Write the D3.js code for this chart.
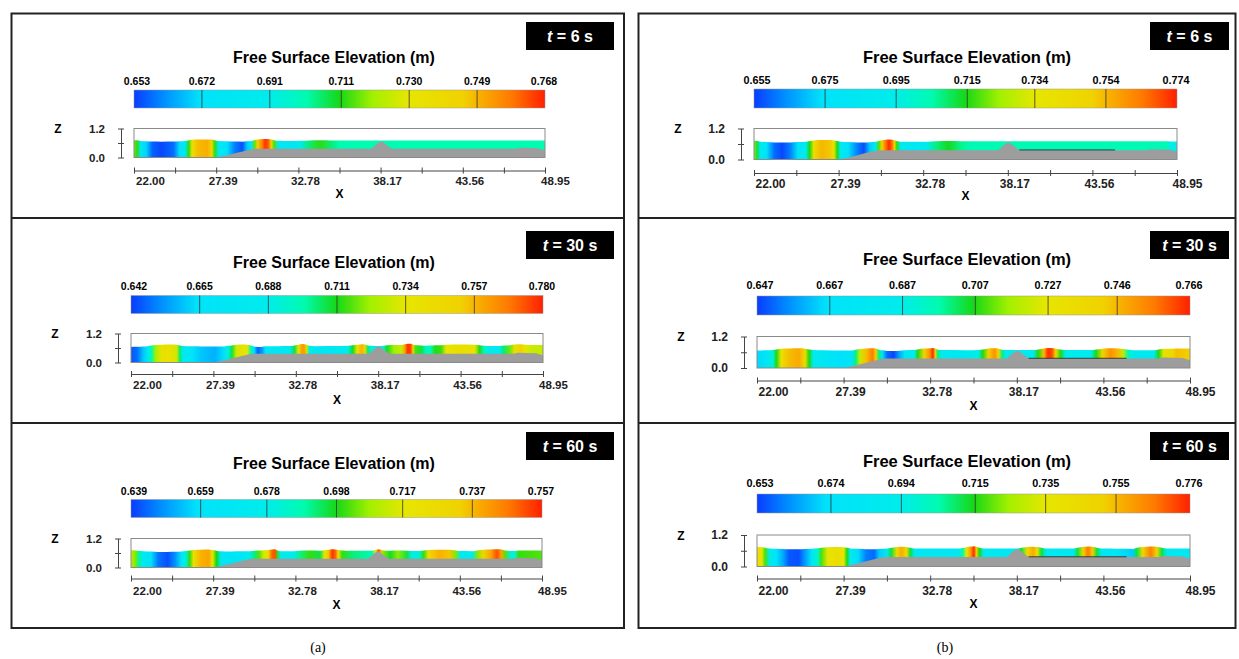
<!DOCTYPE html>
<html>
<head>
<meta charset="utf-8">
<script src="https://cdnjs.cloudflare.com/ajax/libs/d3/7.8.5/d3.min.js"></script>
<style>
  body { margin: 0; background: #fff; }
  svg { display: block; font-family: "Liberation Sans", Arial, Helvetica, sans-serif; }
  .axis path, .axis line { stroke: #444; }
</style>
</head>
<body>
<svg id="fig" width="1239" height="659"></svg>
<script>
// snapshot times (s)
var times = [6, 30, 60];

// colour bar labels, column (a) and (b)
var barA6  = [0.653, 0.672, 0.691, 0.711, 0.730, 0.749, 0.768];
var barA30 = [0.642, 0.665, 0.688, 0.711, 0.734, 0.757, 0.780];
var barA60 = [0.639, 0.659, 0.678, 0.698, 0.717, 0.737, 0.757];
var barB6  = [0.655, 0.675, 0.695, 0.715, 0.734, 0.754, 0.774];
var barB30 = [0.647, 0.667, 0.687, 0.707, 0.727, 0.746, 0.766];
var barB60 = [0.653, 0.674, 0.694, 0.715, 0.735, 0.755, 0.776];

// free surface elevation along the flume, [x (m), eta (m)]
var etaA6 = [[22.0,0.716],[22.2,0.712],[22.45,0.684],[22.8,0.670],[23.2,0.657],[23.8,0.654],[24.6,0.658],[25.0,0.672],
  [25.35,0.682],[25.6,0.712],[25.8,0.733],[26.2,0.748],[26.8,0.750],[27.1,0.742],[27.3,0.712],[27.55,0.685],[28.1,0.672],
  [28.6,0.660],[29.1,0.655],[29.4,0.668],[29.7,0.686],[29.9,0.715],[30.1,0.745],[30.4,0.757],[30.6,0.766],[30.8,0.762],
  [31.0,0.745],[31.2,0.714],[31.45,0.688],[32.2,0.680],[32.9,0.688],[33.5,0.705],[34.2,0.712],[34.9,0.705],[35.5,0.701],
  [48.95,0.701]];
var etaB6 = [[22.0,0.722],[22.2,0.712],[22.4,0.688],[22.8,0.676],[23.3,0.660],[23.8,0.656],[24.3,0.662],[24.8,0.678],
  [25.3,0.688],[25.55,0.715],[25.8,0.740],[26.3,0.754],[26.8,0.752],[27.1,0.738],[27.3,0.715],[27.5,0.690],[28.0,0.676],
  [28.6,0.662],[29.0,0.657],[29.4,0.672],[29.75,0.690],[29.95,0.718],[30.15,0.748],[30.4,0.765],[30.6,0.773],[30.8,0.765],
  [30.95,0.748],[31.1,0.716],[31.35,0.690],[32.2,0.684],[33.0,0.690],[33.6,0.708],[34.4,0.714],[35.2,0.707],[35.8,0.704],
  [48.3,0.704],[48.5,0.695],[48.95,0.695]];
var etaA30 = [[22.0,0.645],[22.4,0.648],[22.8,0.660],[23.1,0.676],[23.35,0.700],[23.6,0.722],[24.0,0.738],[24.6,0.740],
  [25.0,0.730],[25.2,0.705],[25.4,0.680],[26.0,0.668],[26.6,0.660],[27.5,0.657],[28.1,0.665],[28.35,0.690],[28.6,0.708],
  [28.9,0.730],[29.3,0.740],[29.6,0.735],[29.85,0.700],[30.05,0.665],[30.3,0.646],[30.6,0.655],[30.8,0.670],[31.6,0.676],
  [32.4,0.682],[32.7,0.708],[32.95,0.738],[33.2,0.762],[33.35,0.760],[33.5,0.730],[33.65,0.690],[34.0,0.676],[35.5,0.678],
  [36.2,0.688],[36.5,0.710],[36.8,0.738],[37.1,0.758],[37.3,0.745],[37.5,0.705],[37.7,0.690],[38.2,0.682],[38.5,0.690],
  [38.75,0.710],[39.2,0.722],[39.7,0.728],[39.9,0.760],[40.1,0.778],[40.3,0.775],[40.45,0.750],[40.6,0.715],[41.0,0.708],
  [41.3,0.695],[41.6,0.700],[41.9,0.712],[42.3,0.714],[42.6,0.736],[43.5,0.742],[44.5,0.738],[44.8,0.712],[45.1,0.695],
  [45.5,0.682],[46.1,0.684],[46.4,0.705],[46.8,0.718],[47.1,0.740],[47.5,0.752],[47.8,0.735],[48.2,0.728],[48.95,0.728]];
var etaB30 = [[22.0,0.665],[22.6,0.672],[23.0,0.690],[23.2,0.707],[23.5,0.730],[24.0,0.745],[24.6,0.748],[25.0,0.735],
  [25.25,0.707],[25.5,0.685],[26.2,0.676],[27.2,0.666],[27.9,0.670],[28.15,0.700],[28.4,0.722],[28.8,0.745],[29.2,0.756],
  [29.4,0.742],[29.6,0.700],[29.8,0.672],[30.1,0.652],[30.5,0.648],[30.9,0.660],[31.2,0.676],[31.8,0.684],[32.0,0.707],
  [32.4,0.740],[32.75,0.752],[32.95,0.765],[33.1,0.740],[33.25,0.700],[33.5,0.682],[35.0,0.678],[35.8,0.688],[36.05,0.707],
  [36.4,0.742],[36.8,0.752],[37.05,0.735],[37.25,0.700],[37.5,0.682],[39.2,0.682],[39.5,0.707],[39.85,0.745],[40.1,0.764],
  [40.35,0.762],[40.6,0.735],[40.9,0.707],[41.2,0.686],[42.8,0.684],[43.1,0.707],[43.5,0.738],[44.0,0.752],[44.5,0.745],
  [44.8,0.720],[45.1,0.695],[45.4,0.680],[46.7,0.680],[47.0,0.707],[47.3,0.730],[47.9,0.738],[48.1,0.745],[48.95,0.742]];
var etaA60 = [[22.0,0.712],[22.3,0.705],[22.5,0.690],[22.8,0.672],[23.3,0.660],[23.8,0.645],[24.4,0.641],[24.9,0.648],
  [25.3,0.662],[25.6,0.680],[25.85,0.700],[26.1,0.722],[26.6,0.738],[27.1,0.740],[27.35,0.720],[27.6,0.698],[27.9,0.670],
  [28.6,0.662],[29.3,0.668],[29.8,0.676],[30.1,0.692],[30.4,0.702],[30.7,0.715],[31.0,0.725],[31.25,0.750],[31.45,0.752],
  [31.6,0.700],[31.8,0.676],[32.7,0.676],[33.0,0.690],[33.7,0.700],[34.4,0.695],[34.7,0.718],[34.95,0.735],[35.2,0.755],
  [35.4,0.750],[35.6,0.720],[35.85,0.700],[36.5,0.692],[37.2,0.690],[37.8,0.688],[38.05,0.720],[38.25,0.752],[38.4,0.735],
  [38.55,0.705],[39.0,0.697],[39.5,0.706],[40.1,0.695],[40.4,0.680],[40.9,0.682],[41.2,0.700],[41.5,0.725],[42.2,0.738],
  [42.9,0.735],[43.3,0.705],[43.6,0.678],[44.4,0.676],[44.7,0.705],[45.1,0.730],[45.6,0.740],[46.0,0.752],[46.3,0.740],
  [46.55,0.702],[46.9,0.680],[47.2,0.685],[47.4,0.700],[48.95,0.702]];
var etaB60 = [[22.0,0.742],[22.3,0.738],[22.5,0.718],[22.8,0.690],[23.2,0.676],[23.6,0.666],[24.0,0.656],[24.6,0.655],
  [25.0,0.664],[25.4,0.678],[25.8,0.700],[26.0,0.718],[26.4,0.736],[27.0,0.742],[27.4,0.736],[27.6,0.715],[27.8,0.690],
  [28.3,0.672],[28.8,0.660],[29.3,0.658],[29.6,0.670],[30.1,0.684],[30.35,0.712],[30.7,0.745],[31.0,0.757],[31.3,0.745],
  [31.55,0.712],[31.8,0.686],[34.5,0.682],[34.8,0.705],[35.05,0.735],[35.3,0.760],[35.5,0.775],[35.65,0.752],[35.85,0.715],
  [36.1,0.688],[38.2,0.682],[38.45,0.712],[38.8,0.745],[39.2,0.757],[39.45,0.740],[39.7,0.712],[40.0,0.688],[41.7,0.684],
  [41.95,0.712],[42.3,0.750],[42.6,0.766],[42.9,0.752],[43.15,0.712],[43.45,0.685],[44.4,0.680],[44.8,0.672],[45.4,0.670],
  [45.65,0.712],[46.0,0.745],[46.5,0.765],[46.9,0.748],[47.2,0.712],[47.5,0.688],[48.95,0.686]];

// bed profile (m)
var bedX = [22.0, 27.45, 28.3, 29.1, 29.9, 37.55, 37.9, 38.1, 38.3, 38.5, 38.9, 47.0, 47.3, 48.5, 48.95];
var bedZ = [0.00, 0.00, 0.12, 0.25, 0.36, 0.36, 0.55, 0.65, 0.65, 0.55, 0.36, 0.36, 0.40, 0.38, 0.30];
// thin plate drawn in the (b) runs
var plateX = [38.9, 45.0];
var plateZ = 0.37;

var xMajor = [22.00, 27.39, 32.78, 38.17, 43.56, 48.95];
var xMinor = [24.695, 30.085, 35.475, 40.865, 46.255];
var zTicks = [0.0, 0.6, 1.2];

// rainbow colour map of the legend
var jetPos = [0, 0.07, 0.16, 0.33, 0.42, 0.5, 0.58, 0.667, 0.8, 0.84, 0.92, 1];
var jetCol = ["#0a3cff", "#008cff", "#00e2fa", "#00ecec", "#00fbb0", "#16d816", "#a2f000",
              "#e6e600", "#f0d200", "#f8b000", "#ff7800", "#ff2000"];
var jet = d3.scaleLinear().domain(jetPos).range(jetCol).clamp(true);

var panels = [
  {col: 0, row: 0, bar: barA6,  eta: etaA6,  t: times[0]},
  {col: 0, row: 1, bar: barA30, eta: etaA30, t: times[1]},
  {col: 0, row: 2, bar: barA60, eta: etaA60, t: times[2]},
  {col: 1, row: 0, bar: barB6,  eta: etaB6,  t: times[0]},
  {col: 1, row: 1, bar: barB30, eta: etaB30, t: times[1]},
  {col: 1, row: 2, bar: barB60, eta: etaB60, t: times[2]}
];

// layout of every sub-plot
var cols = [
  {frame: [11.5, 624], tag: [526, 614], titleX: 334, fTitle: 16, fBar: 10.5, fTick: 11.5, name: "(a)", nameX: 318},
  {frame: [638.5, 1235.5], tag: [1150, 1229], titleX: 967, fTitle: 16.5, fBar: 10.8, fTick: 12, name: "(b)", nameX: 945}
];
var geo = [
  [ {x: [134, 545], tagY: [22, 50], titleY: 57, cbLabY: 81, cbY: [90, 108], boxY: [128.5, 157.5], axisY: 170.5, tickY: 181, xLabY: 193, brX: 121},
    {x: [131, 543], tagY: [231, 259], titleY: 262, cbLabY: 286, cbY: [295.5, 313.5], boxY: [333.5, 362.5], axisY: 374, tickY: 385, xLabY: 399, brX: 118},
    {x: [131, 542], tagY: [432, 460], titleY: 463, cbLabY: 491, cbY: [499.5, 517.5], boxY: [538.5, 567.5], axisY: 578.5, tickY: 591, xLabY: 604, brX: 118} ],
  [ {x: [754, 1177], tagY: [22, 50], titleY: 57, cbLabY: 80, cbY: [89, 108], boxY: [128.5, 159.5], axisY: 173, tickY: 183.5, xLabY: 195.5, brX: 741},
    {x: [757, 1190], tagY: [231, 259], titleY: 259, cbLabY: 285, cbY: [296, 315], boxY: [336.5, 368], axisY: 380.5, tickY: 391.5, xLabY: 405, brX: 744},
    {x: [757, 1190], tagY: [432, 460], titleY: 461, cbLabY: 483, cbY: [494, 513], boxY: [535, 566.5], axisY: 578.5, tickY: 591, xLabY: 603, brX: 744} ]
];

var svg = d3.select("#fig");
var defs = svg.append("defs");

// outer frames
cols.forEach(function (c) {
  svg.append("rect")
    .attr("x", c.frame[0]).attr("y", 13.5)
    .attr("width", c.frame[1] - c.frame[0]).attr("height", 614.5)
    .attr("fill", "none").attr("stroke", "#222").attr("stroke-width", 2);
  [218, 423].forEach(function (y) {
    svg.append("line")
      .attr("x1", c.frame[0]).attr("x2", c.frame[1])
      .attr("y1", y).attr("y2", y)
      .attr("stroke", "#222").attr("stroke-width", 2);
  });
  svg.append("text")
    .attr("x", c.nameX).attr("y", 652)
    .attr("text-anchor", "middle")
    .style("font-family", "'Liberation Serif', 'Times New Roman', serif")
    .style("font-size", "14px")
    .text(c.name);
});

panels.forEach(function (p, i) {
  var c = cols[p.col];
  var g = geo[p.col][p.row];
  var lo = p.bar[0], hi = p.bar[p.bar.length - 1];
  var norm = function (v) { return (v - lo) / (hi - lo); };

  var xs = d3.scaleLinear().domain([22, 48.95]).range(g.x);
  var zs = d3.scaleLinear().domain([0, 1.2]).range([g.boxY[1], g.boxY[0]]);
  var cb = d3.scaleLinear().domain([lo, hi]).range(g.x);

  // time tag
  svg.append("rect")
    .attr("x", c.tag[0]).attr("y", g.tagY[0])
    .attr("width", c.tag[1] - c.tag[0]).attr("height", g.tagY[1] - g.tagY[0])
    .attr("fill", "#000");
  var tag = svg.append("text")
    .attr("x", (c.tag[0] + c.tag[1]) / 2).attr("y", (g.tagY[0] + g.tagY[1]) / 2 + 5.5)
    .attr("text-anchor", "middle").attr("fill", "#fff")
    .style("font-weight", "bold").style("font-size", "16px");
  tag.append("tspan").style("font-style", "italic").text("t");
  tag.append("tspan").text(" = " + p.t + " s");

  // title
  svg.append("text")
    .attr("x", c.titleX).attr("y", g.titleY + 5.5)
    .attr("text-anchor", "middle")
    .style("font-weight", "bold").style("font-size", c.fTitle + "px")
    .text("Free Surface Elevation (m)");

  // colour bar
  var cbId = "cb" + i;
  var cbGrad = defs.append("linearGradient").attr("id", cbId)
    .attr("x1", "0%").attr("x2", "100%").attr("y1", "0%").attr("y2", "0%");
  jetPos.forEach(function (t, k) {
    cbGrad.append("stop").attr("offset", (t * 100) + "%").attr("stop-color", jetCol[k]);
  });
  svg.append("rect")
    .attr("x", g.x[0]).attr("y", g.cbY[0])
    .attr("width", g.x[1] - g.x[0]).attr("height", g.cbY[1] - g.cbY[0])
    .attr("fill", "url(#" + cbId + ")")
    .attr("stroke", "#999").attr("stroke-width", 0.5);
  svg.selectAll(null)
    .data(p.bar.slice(1, -1)).enter().append("line")
    .attr("x1", d => cb(d)).attr("x2", d => cb(d))
    .attr("y1", g.cbY[0]).attr("y2", g.cbY[1])
    .attr("stroke", "#333").attr("stroke-width", 0.8);
  svg.selectAll(null)
    .data(p.bar).enter().append("text")
    .attr("x", (d, k) => cb(d) + (k === 0 ? 3 : (k === p.bar.length - 1 ? -1 : 0)))
    .attr("y", g.cbLabY + 3.8)
    .attr("text-anchor", "middle")
    .style("font-weight", "bold").style("font-size", c.fBar + "px")
    .text(d => d.toFixed(3));

  // flume window
  svg.append("rect")
    .attr("x", g.x[0]).attr("y", g.boxY[0])
    .attr("width", g.x[1] - g.x[0]).attr("height", g.boxY[1] - g.boxY[0])
    .attr("fill", "#fff");

  // water coloured by the surface elevation
  var wId = "water" + i;
  var wGrad = defs.append("linearGradient").attr("id", wId)
    .attr("gradientUnits", "userSpaceOnUse")
    .attr("x1", g.x[0]).attr("x2", g.x[1]).attr("y1", 0).attr("y2", 0);
  wGrad.selectAll("stop").data(p.eta).enter().append("stop")
    .attr("offset", d => (100 * (xs(d[0]) - g.x[0]) / (g.x[1] - g.x[0])) + "%")
    .attr("stop-color", d => jet(norm(d[1])));
  var water = d3.area()
    .x(d => xs(d[0])).y0(zs(0)).y1(d => zs(d[1]))
    .curve(d3.curveMonotoneX);
  svg.append("path")
    .datum(p.eta)
    .attr("d", water)
    .attr("fill", "url(#" + wId + ")");

  // bed
  var bed = d3.area()
    .x(d => xs(d[0])).y0(zs(0)).y1(d => zs(d[1]));
  svg.append("path")
    .datum(bedX.map((x, k) => [x, bedZ[k]]))
    .attr("d", bed)
    .attr("fill", "#9d9d9d");
  if (p.col === 1) {
    svg.append("line")
      .attr("x1", xs(plateX[0])).attr("x2", xs(plateX[1]))
      .attr("y1", zs(plateZ)).attr("y2", zs(plateZ))
      .attr("stroke", "#3a3a3a").attr("stroke-width", 1);
  }
  svg.append("rect")
    .attr("x", g.x[0]).attr("y", g.boxY[0])
    .attr("width", g.x[1] - g.x[0]).attr("height", g.boxY[1] - g.boxY[0])
    .attr("fill", "none").attr("stroke", "#8a8a8a").attr("stroke-width", 1);

  // z bracket
  var zAxis = svg.append("g").attr("class", "axis")
    .attr("transform", "translate(" + g.brX + ",0)")
    .call(d3.axisLeft(zs).tickValues(zTicks).tickSize(3).tickSizeOuter(0)
      .tickFormat(d => d === 0.6 ? "" : d.toFixed(1)));
  zAxis.selectAll(".tick line").attr("x1", -3).attr("x2", 3);
  zAxis.selectAll(".tick text")
    .attr("x", -16)
    .style("font-weight", "bold").style("font-size", c.fTick + "px")
    .style("font-family", "'Liberation Sans', Arial, sans-serif").attr("fill", "#222");
  svg.append("text")
    .attr("x", g.brX - 63).attr("y", zs(1.2) + 4.5)
    .attr("text-anchor", "middle")
    .style("font-weight", "bold").style("font-size", "12px")
    .text("Z");

  // x axis
  var xAxis = svg.append("g").attr("class", "axis")
    .attr("transform", "translate(0," + g.axisY + ")")
    .call(d3.axisBottom(xs).tickValues(xMajor.concat(xMinor)).tickSize(3).tickSizeOuter(0)
      .tickFormat(d => xMajor.indexOf(d) >= 0 ? d.toFixed(2) : ""));
  xAxis.selectAll(".tick line").attr("y1", -3).attr("y2", 3);
  xAxis.selectAll(".tick text")
    .attr("y", g.tickY - g.axisY + 4).attr("dy", null)
    .attr("dx", d => d === xMajor[0] ? 16 : (d === xMajor[xMajor.length - 1] ? 10 : 6.5))
    .style("font-weight", "bold").style("font-size", c.fTick + "px")
    .style("font-family", "'Liberation Sans', Arial, sans-serif").attr("fill", "#222");
  svg.append("text")
    .attr("x", (g.x[0] + g.x[1]) / 2).attr("y", g.xLabY + 4.5)
    .attr("text-anchor", "middle")
    .style("font-weight", "bold").style("font-size", "12px")
    .text("X");
});
</script>
</body>
</html>
